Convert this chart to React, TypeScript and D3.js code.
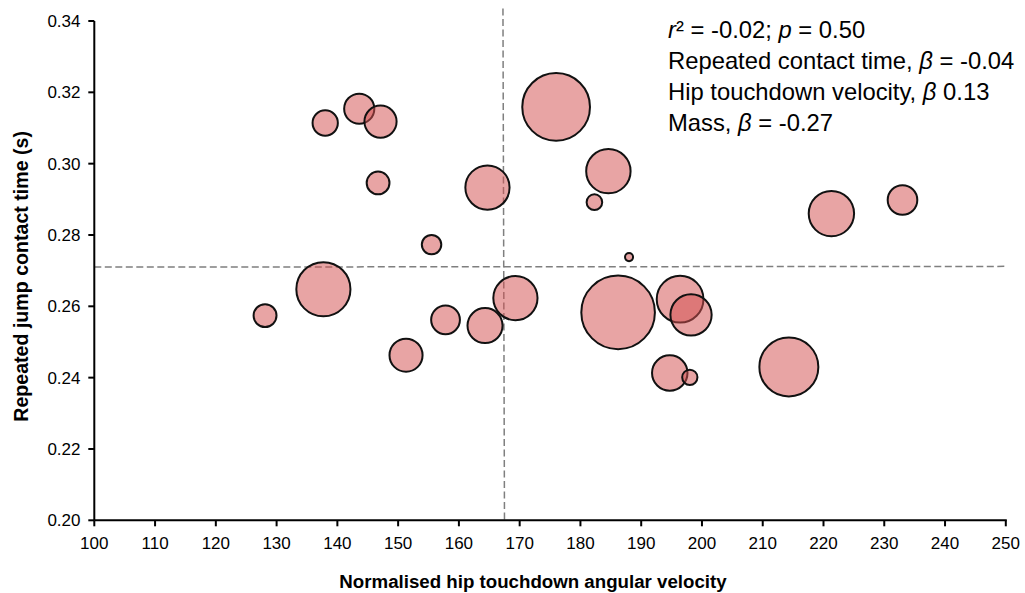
import React from "react";
import * as d3 from "d3";

// Normalised hip touchdown angular velocity (x)
const hipVelocity = [138.0, 143.6, 147.1, 146.7, 164.7, 155.5, 137.7, 128.1, 151.3, 157.8, 164.3, 169.3, 176.0, 184.6, 182.3, 188.0, 186.2, 196.4, 198.2, 194.7, 198.0, 221.3, 233.0, 214.3];
// Repeated jump contact time (s) (y)
const contactTime = [0.3114, 0.3154, 0.3118, 0.2946, 0.2933, 0.2773, 0.2648, 0.2574, 0.2463, 0.2562, 0.2546, 0.2623, 0.3159, 0.2979, 0.2892, 0.2738, 0.2583, 0.2620, 0.2576, 0.2413, 0.2401, 0.2860, 0.2898, 0.2430];
// Bubble size (relative)
const bubbleSize = [11.8, 16.8, 19.1, 9.6, 36.1, 7.0, 54.1, 9.7, 20.2, 15.3, 22.7, 36.1, 84.7, 36.4, 4.5, 1.2, 100, 40.3, 31.4, 23.2, 4.3, 38.0, 16.2, 64.2];

const xTicks = [100, 110, 120, 130, 140, 150, 160, 170, 180, 190, 200, 210, 220, 230, 240, 250];
const yTicks = [0.2, 0.22, 0.24, 0.26, 0.28, 0.3, 0.32, 0.34];

// Reference (mean) dashed lines
const meanX = [167.25, 167.5];
const meanY = [0.2710, 0.2712];
const meanLineTop = 0.3435;

const xTitle = "Normalised hip touchdown angular velocity";
const yTitle = "Repeated jump contact time (s)";

export default function App() {
  const W = 1025, H = 593;
  const x = d3.scaleLinear().domain([100, 250]).range([94.3, 1005.8]);
  const y = d3.scaleLinear().domain([0.2, 0.34]).range([520.3, 21]);
  const r = d3.scaleSqrt().domain([0, 100]).range([0, 36.8]);
  const fmt = d3.format(".2f");
  const font = "'Liberation Sans', Arial, sans-serif";
  const pts = hipVelocity.map((v, i) => ({ x: v, y: contactTime[i], s: bubbleSize[i] }));

  return (
    <svg width={W} height={H} style={{ position: "absolute", left: 0, top: 0, background: "#fff" }} fontFamily={font}>
      {/* dashed reference lines */}
      <line x1={x(meanX[0])} y1={y(meanLineTop)} x2={x(meanX[1])} y2={y(0.2)} stroke="#7f7f7f" strokeWidth={1.5} strokeDasharray="7,3.5" />
      <line x1={x(100)} y1={y(meanY[0])} x2={x(250)} y2={y(meanY[1])} stroke="#7f7f7f" strokeWidth={1.5} strokeDasharray="7,3.5" />

      {/* bubbles */}
      {pts.map((p, i) => (
        <circle key={i} cx={x(p.x)} cy={y(p.y)} r={r(p.s)} fill="rgb(210,80,80)" fillOpacity={0.52} stroke="#111" strokeWidth={2} />
      ))}

      {/* axes */}
      <line x1={x(100)} y1={y(0.2)} x2={x(250) + 1} y2={y(0.2)} stroke="#000" strokeWidth={2} />
      <line x1={x(100)} y1={y(0.2)} x2={x(100)} y2={y(0.34)} stroke="#000" strokeWidth={2} />
      {xTicks.map((t) => (
        <g key={t}>
          <line x1={x(t)} x2={x(t)} y1={y(0.2)} y2={y(0.2) + 6} stroke="#000" strokeWidth={2} />
          <text x={x(t)} y={548.5} fontSize={17} textAnchor="middle" fill="#000">{t}</text>
        </g>
      ))}
      {yTicks.map((t) => (
        <g key={t}>
          <line x1={x(100) - 6} x2={x(100)} y1={y(t)} y2={y(t)} stroke="#000" strokeWidth={2} />
          <text x={80.5} y={y(t) + 6} fontSize={17} textAnchor="end" fill="#000">{fmt(t)}</text>
        </g>
      ))}

      {/* axis titles */}
      <text x={533} y={588} fontSize={18.7} fontWeight="bold" textAnchor="middle" fill="#000">{xTitle}</text>
      <text transform={`translate(28.3,276.4) rotate(-90)`} fontSize={19.6} fontWeight="bold" textAnchor="middle" fill="#000">{yTitle}</text>

      {/* annotation */}
      <g fontSize={23.8} fill="#000">
        <text x={668} y={37.5}><tspan fontStyle="italic">r</tspan>² = -0.02; <tspan fontStyle="italic">p</tspan> = 0.50</text>
        <text x={668} y={69}>Repeated contact time, <tspan fontStyle="italic">β</tspan> = -0.04</text>
        <text x={668} y={100}>Hip touchdown velocity, <tspan fontStyle="italic">β</tspan> 0.13</text>
        <text x={668} y={130.5}>Mass, <tspan fontStyle="italic">β</tspan> = -0.27</text>
      </g>
    </svg>
  );
}
